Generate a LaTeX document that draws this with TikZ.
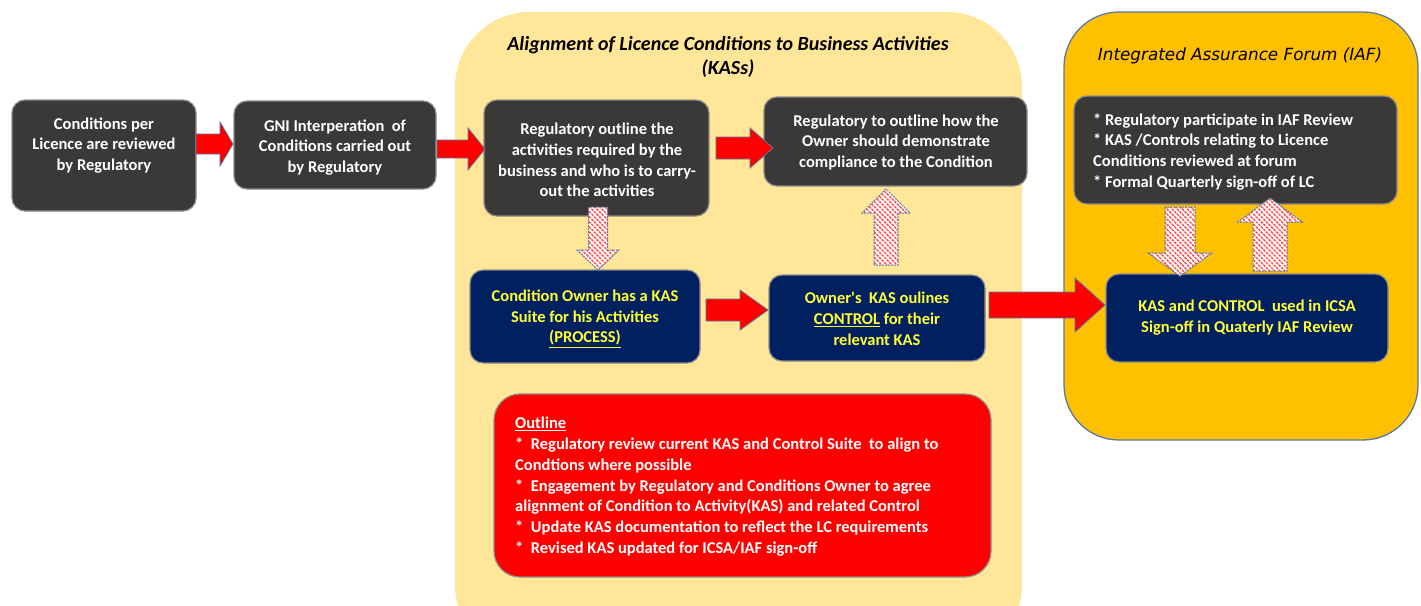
\documentclass[tikz,border=0pt]{standalone}
\usepackage{fontspec}
\setmainfont{Carlito}
\newfontfamily\iaffont{DejaVu Sans}
\usetikzlibrary{patterns.meta}
\definecolor{dk}{HTML}{3B3838}
\definecolor{navy}{HTML}{002060}
\definecolor{ylw}{HTML}{FFFF33}
\definecolor{pale}{HTML}{FFE699}
\definecolor{orng}{HTML}{FFC000}
\definecolor{bgrey}{HTML}{5A7AA0}
\definecolor{shad}{HTML}{8C8C8C}
\newcommand\rarr[6]{%
  \draw[redarrow] (#1,#3-#4) -- (#6,#3-#4) -- (#6,#3-#5) -- (#2,#3) -- (#6,#3+#5) -- (#6,#3+#4) -- (#1,#3+#4) -- cycle;}
\newcommand\varr[6]{%
  \draw[hatcharrow] (#1-#4,#2) -- (#1-#4,#6) -- (#1-#5,#6) -- (#1,#3) -- (#1+#5,#6) -- (#1+#4,#6) -- (#1+#4,#2) -- cycle;}
\begin{document}
\begin{tikzpicture}[x=1pt,y=-1pt,
  boxfont/.style={font=\bfseries\fontsize{16.5}{20.8}\selectfont},
  darkbox/.style={fill=dk, draw=shad, line width=1.2pt, rounded corners=13pt, inner sep=0pt},
  navybox/.style={fill=navy, draw=shad, line width=1.2pt, rounded corners=13pt, inner sep=0pt},
  wtxt/.style={boxfont, text=white, align=center, inner sep=0pt},
  ytxt/.style={boxfont, text=ylw, align=center, inner sep=0pt},
  redarrow/.style={fill=red, draw=bgrey, line width=0.8pt, line join=miter},
  hatcharrow/.style={preaction={fill=white}, pattern={Lines[angle=-45,distance=3.6pt,line width=1.5pt]}, pattern color=red!70, draw=bgrey, dash pattern=on 2pt off 1pt, line width=1pt},
]
\clip (0,0) rectangle (1421,605);
\fill[white] (0,0) rectangle (1421,605);
% regions
\fill[pale, rounded corners=75pt] (455,12) rectangle (1022,660);
\filldraw[fill=orng, draw=bgrey, line width=1.3pt, rounded corners=55pt] (1064,12) rectangle (1418,440);
\node[font=\bfseries\itshape\fontsize{20}{24}\selectfont, align=center] (t1) at (728,57) {Alignment of Licence Conditions to Business Activities\\(KASs)};
\node[font=\iaffont\itshape\fontsize{16.8}{20}\selectfont] (t2) at (1240,56) {Integrated Assurance Forum (IAF)};
% boxes
\node[darkbox, minimum width=184, minimum height=111] (A) at (104,155.5) {};
\node[wtxt] (At) at (104,145.5) {Conditions per\\Licence are reviewed\\by Regulatory};
\node[darkbox, minimum width=202, minimum height=88] (B) at (335,145) {};
\node[wtxt] (Bt) at (335,147.5) {GNI Interperation\ \ of\\Conditions carried out\\by Regulatory};
\node[darkbox, minimum width=225, minimum height=116] (C) at (596.5,158) {};
\node[wtxt] (Ct) at (597,160) {Regulatory outline the\\activities required by the\\business and who is to carry-\\out the activities};
\node[darkbox, minimum width=263, minimum height=89] (D) at (895.5,141.5) {};
\node[wtxt] (Dt) at (896,142.5) {Regulatory to outline how the\\Owner should demonstrate\\compliance to the Condition};
\node[navybox, minimum width=230, minimum height=93] (E) at (585,316.5) {};
\node[ytxt] (Et) at (585,318.5) {Condition Owner has a KAS\\Suite for his Activities\\\underline{(PROCESS)}};
\node[navybox, minimum width=216, minimum height=86] (F) at (877,318) {};
\node[ytxt] (Ft) at (877,318.5) {Owner\textquotesingle s\ \ KAS oulines\\\underline{CONTROL} for their\\relevant KAS};
\node[navybox, minimum width=282, minimum height=88] (G) at (1247,318) {};
\node[ytxt] (Gt) at (1247,318) {KAS and CONTROL\ \ used in ICSA\\Sign-off in Quaterly IAF Review};
\node[darkbox, minimum width=323, minimum height=108] (H) at (1235.5,150) {};
\node[boxfont, text=white, align=left, anchor=north west, inner sep=0pt] (Ht) at (1093,113) {* Regulatory participate in IAF Review\\* KAS /Controls relating to Licence\\Conditions reviewed at forum\\* Formal Quarterly sign-off of LC};
\filldraw[fill=red, draw=shad, line width=1.2pt, rounded corners=26pt] (494,394) rectangle (991,577);
\node[boxfont, text=white, align=left, anchor=north west, inner sep=0pt] (O) at (515,417) {\underline{Outline}\\*\ \ Regulatory review current KAS and Control Suite\ \ to align to\\Condtions where possible\\*\ \ Engagement by Regulatory and Conditions Owner to agree\\alignment of Condition to Activity(KAS) and related Control\\*\ \ Update KAS documentation to reflect the LC requirements\\*\ \ Revised KAS updated for ICSA/IAF sign-off};
% red arrows
\rarr{196}{233}{144}{10}{22}{220}
\rarr{437}{485}{149}{9}{21}{468}
\rarr{716}{773}{148}{11}{20}{750}
\rarr{706}{768}{310}{11}{20}{740}
\rarr{989}{1105}{305}{13}{27}{1075}
% hatched arrows
\varr{598}{207}{270}{9.5}{21}{250}
\varr{886}{265}{189}{12}{24}{213}
\varr{1180}{207}{276}{15}{32}{253}
\varr{1270}{271}{198}{17}{32}{222}
\end{tikzpicture}
\end{document}
